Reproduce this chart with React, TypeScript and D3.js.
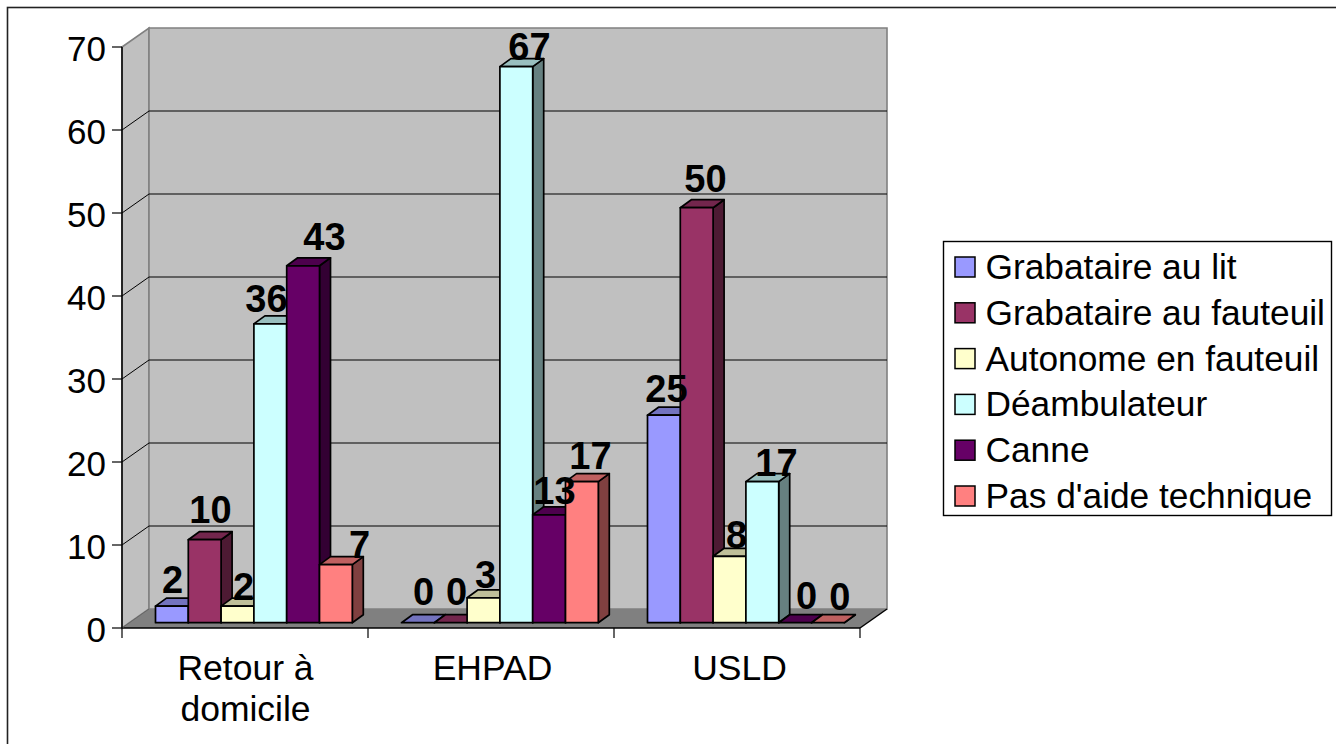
import React from "react";
import * as d3 from "d3";

const categories = ["Retour à|domicile", "EHPAD", "USLD"];
const seriesNames = ["Grabataire au lit", "Grabataire au fauteuil", "Autonome en fauteuil", "Déambulateur", "Canne", "Pas d'aide technique"];
const seriesColors = ["#9999ff", "#993366", "#ffffcc", "#ccffff", "#660066", "#ff8080"];
const grabataireLit = [2, 0, 25];
const grabataireFauteuil = [10, 0, 50];
const autonome = [2, 3, 8];
const deambulateur = [36, 67, 17];
const canne = [43, 13, 0];
const pasAide = [7, 17, 0];
const seriesValues = [grabataireLit, grabataireFauteuil, autonome, deambulateur, canne, pasAide];
const yTicks = [0, 10, 20, 30, 40, 50, 60, 70];

// Hand placement of the data labels relative to each bar's front top centre [dx, baseline dy], by category then series
const labelNudges = [
  [[0.6, -13], [5.8, -17], [6, -6], [-3.8, -12], [21.4, -16], [23.6, -7]],
  [[5.6, -18], [5.8, -18], [2, -10], [13.2, -7], [5.4, -11], [8.6, -13]],
  [[2.6, -13], [8.8, -16], [7, -8], [14.2, -6], [11.4, -14], [12, -13]],
];

const W = 1336, H = 744;
const FONT = "'Liberation Sans', Arial, sans-serif";
const axisL = 122, axisR = 860, axisB = 628, axisT = 47;
const DX = 27, DY = -19; // wall depth
const BDX = 11, BDY = -8; // bar depth
const barFrontOffsetY = -5.3;

export default function App() {
  const y = d3.scaleLinear().domain([0, 70]).range([axisB, axisT]);
  const x0 = d3.scaleBand<number>().domain(d3.range(3)).range([axisL, axisR]);
  const barW = 32.8;
  const groupPad = 33.5;
  const sideCol = (c: string) => { const r = d3.rgb(c); return d3.rgb(r.r / 2, r.g / 2, r.b / 2).formatHex(); };
  const topCol = (c: string) => { const r = d3.rgb(c); return d3.rgb(r.r * 0.75, r.g * 0.75, r.b * 0.75).formatHex(); };
  const pts = (a: number[][]) => a.map((p) => p.join(",")).join(" ");

  return (
    <svg width={W} height={H} style={{ position: "absolute", left: 0, top: 0, display: "block" }} fontFamily={FONT}>
      <rect width={W} height={H} fill="#fff" />
      <rect x={7.5} y={7.5} width={1340} height={760} fill="#fff" stroke="#222" strokeWidth={1.6} />
      {/* walls */}
      <polygon points={pts([[axisL, axisB], [axisL + DX, axisB + DY], [axisL + DX, axisT + DY], [axisL, axisT]])} fill="#c0c0c0" stroke="#808080" strokeWidth={1.6} />
      <polygon points={pts([[axisL + DX, axisB + DY], [axisR + DX, axisB + DY], [axisR + DX, axisT + DY], [axisL + DX, axisT + DY]])} fill="#c0c0c0" stroke="#808080" strokeWidth={1.6} />
      <polygon points={pts([[axisL, axisB], [axisR, axisB], [axisR + DX, axisB + DY], [axisL + DX, axisB + DY]])} fill="#808080" />
      {/* grid */}
      {yTicks.slice(1, -1).map((t) => (
        <polyline key={t} points={pts([[axisL, y(t)], [axisL + DX, y(t) + DY], [axisR + DX, y(t) + DY]])} fill="none" stroke="#000" strokeWidth={1} />
      ))}
      <line x1={axisL} x2={axisR} y1={axisB} y2={axisB} stroke="#000" strokeWidth={1.5} />
      <line x1={axisR} x2={axisR + DX} y1={axisB} y2={axisB + DY} stroke="#000" strokeWidth={1.5} />
      <line x1={axisL} x2={axisL + DX} y1={axisB} y2={axisB + DY} stroke="#666" strokeWidth={1} />
      <line x1={axisL} x2={axisL} y1={axisT} y2={axisB} stroke="#000" strokeWidth={1.5} />
      {yTicks.map((t) => (
        <g key={t}>
          <line x1={axisL - 10} x2={axisL} y1={y(t)} y2={y(t)} stroke="#000" strokeWidth={1.2} />
          <text x={axisL - 16} y={y(t) + 13.5} textAnchor="end" fontSize={35}>{t}</text>
        </g>
      ))}
      {d3.range(4).map((i) => {
        const xx = axisL + (i * (axisR - axisL)) / 3;
        return <line key={i} x1={xx} x2={xx} y1={axisB} y2={axisB + 10} stroke="#000" strokeWidth={1.2} />;
      })}
      {categories.map((c, i) => (
        <text key={c} textAnchor="middle" fontSize={35.5}>
          {c.split("|").map((s, j) => (
            <tspan key={j} x={x0(i)! + x0.bandwidth() / 2 + i + 0.5} y={679.5 + j * 41}>{s}</tspan>
          ))}
        </text>
      ))}
      {/* bars */}
      {categories.map((_, ci) =>
        seriesValues.map((vals, si) => {
          const v = vals[ci];
          const col = seriesColors[si];
          const xl = x0(ci)! + groupPad + si * barW;
          const xr = xl + barW;
          const yb = axisB + barFrontOffsetY;
          const yt = y(v) + barFrontOffsetY;
          return (
            <g key={`${ci}-${si}`} stroke="#000" strokeWidth={1.7} strokeLinejoin="round">
              <polygon points={pts([[xr, yb], [xr + BDX, yb + BDY], [xr + BDX, yt + BDY], [xr, yt]])} fill={sideCol(col)} />
              <polygon points={pts([[xl, yt], [xl + BDX, yt + BDY], [xr + BDX, yt + BDY], [xr, yt]])} fill={topCol(col)} />
              {v > 0 && <rect x={xl} y={yt} width={barW} height={yb - yt} fill={col} />}
            </g>
          );
        })
      )}
      {categories.map((_, ci) =>
        seriesValues.map((vals, si) => {
          const v = vals[ci];
          const xl = x0(ci)! + groupPad + si * barW;
          const [dx, dy] = labelNudges[ci][si];
          return (
            <text key={`l${ci}-${si}`} x={xl + barW / 2 + dx} y={y(v) + barFrontOffsetY + dy} textAnchor="middle" fontSize={38} fontWeight="bold">{v}</text>
          );
        })
      )}
      {/* legend */}
      <rect x={943.5} y={241.5} width={388} height={274} fill="#fff" stroke="#000" strokeWidth={1.4} />
      {seriesNames.map((s, i) => {
        const yy = 267 + i * 45.8;
        return (
          <g key={s}>
            <rect x={955} y={yy - 10} width={20} height={20} fill={seriesColors[i]} stroke="#000" strokeWidth={1.5} />
            <text x={985.5} y={yy + 12} fontSize={35.3}>{s}</text>
          </g>
        );
      })}
    </svg>
  );
}
